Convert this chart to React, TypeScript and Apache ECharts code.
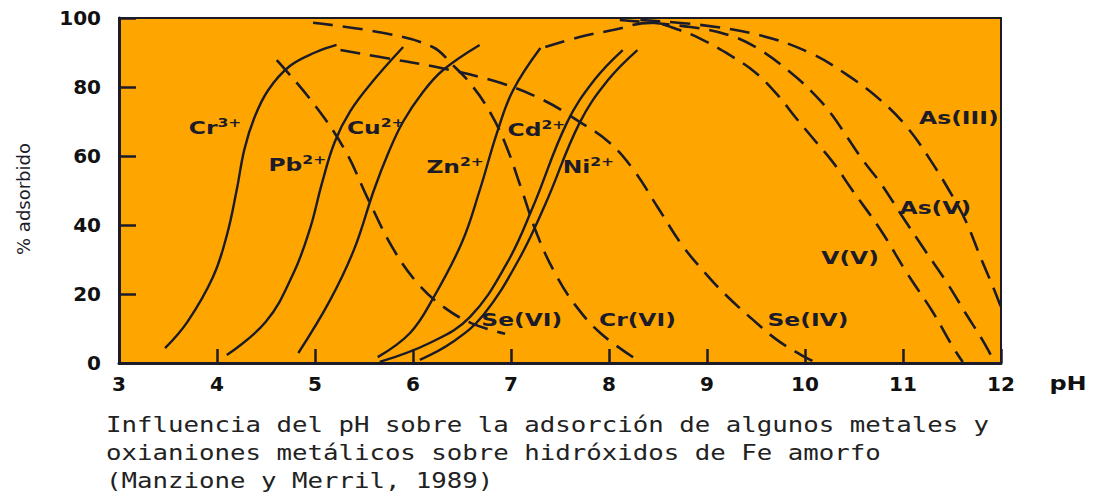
import React, { useEffect, useRef } from "react";
import * as echarts from "echarts";

// ---- data (pH, % adsorbed) ----
const crIII = [[3.47, 4.3], [3.7, 12], [3.96, 25], [4.1, 37], [4.2, 50], [4.28, 62], [4.38, 71], [4.52, 79], [4.74, 86], [5.0, 90], [5.22, 92.2]];
const pbII = [[4.1, 2.3], [4.5, 12], [4.78, 26], [4.95, 39], [5.07, 52], [5.2, 64], [5.36, 73], [5.6, 82], [5.9, 91.6]];
const cuII = [[4.83, 2.9], [5.15, 18], [5.4, 33], [5.6, 50], [5.75, 61], [5.9, 70], [6.1, 78.5], [6.31, 85], [6.68, 92.2]];
const znII = [[5.64, 1.7], [5.97, 8.7], [6.2, 18.5], [6.5, 35], [6.68, 50], [6.86, 67], [7.02, 79], [7.3, 91.3]];
const cdII = [[5.66, 0.3], [6.17, 5.8], [6.58, 13.3], [6.96, 29], [7.22, 45], [7.57, 69.6], [7.85, 82], [8.14, 90.7]];
const niII = [[6.07, 0.9], [6.4, 6], [6.72, 14], [7.08, 30], [7.35, 46], [7.7, 69.6], [7.99, 82], [8.29, 90.7]];

const seVI = [[4.61, 87.8], [4.98, 75.4], [5.3, 62], [5.55, 47], [5.8, 33], [6.05, 23], [6.3, 16.5], [6.6, 11.5], [6.94, 8.5]];
const crVI = [[4.98, 98.6], [5.69, 95.7], [6.2, 91.6], [6.4, 86.5], [6.6, 80.5], [6.8, 72], [6.95, 63], [7.1, 51], [7.27, 37], [7.45, 26], [7.65, 17], [7.92, 8.5], [8.32, 0.3]];
const seIV = [[5.26, 90.7], [5.84, 87.8], [6.24, 85.8], [6.89, 81.2], [7.33, 76.2], [7.7, 69.9], [8.0, 64], [8.25, 56], [8.5, 45], [8.75, 34], [9.0, 25.5], [9.2, 19.5], [9.45, 13], [9.7, 7], [9.95, 2.5], [10.12, 0]];
const vV = [[7.35, 91.6], [7.7, 94.5], [8.04, 96.5], [8.42, 98.6], [8.72, 96.5], [8.96, 93.6], [9.23, 89.3], [9.49, 84.3], [9.72, 77.7], [9.9, 71.3], [10.07, 65.5], [10.29, 58], [10.46, 51], [10.77, 38.6], [11.04, 26.1], [11.31, 14.5], [11.51, 4.6], [11.61, 0.3]];
const asV = [[8.11, 99.4], [8.83, 97.4], [9.23, 95], [9.51, 91.3], [9.85, 84.3], [10.08, 78.3], [10.26, 72.5], [10.43, 65.5], [10.59, 58.8], [10.77, 52.2], [10.97, 43.5], [11.22, 32.8], [11.45, 23.2], [11.65, 13.9], [11.81, 6.7], [11.94, 0]];
const asIII = [[8.32, 99.4], [8.93, 98], [9.54, 95], [10.05, 89.9], [10.43, 83.5], [10.77, 76.2], [11.04, 68.4], [11.28, 58.8], [11.51, 48.1], [11.65, 40.6], [11.79, 30.7], [11.92, 22], [12.0, 16.2]];

const cations = [
  { name: "Cr3+", data: crIII },
  { name: "Pb2+", data: pbII },
  { name: "Cu2+", data: cuII },
  { name: "Zn2+", data: znII },
  { name: "Cd2+", data: cdII },
  { name: "Ni2+", data: niII },
];
const anions = [
  { name: "Se(VI)", data: seVI },
  { name: "Cr(VI)", data: crVI },
  { name: "Se(IV)", data: seIV },
  { name: "V(V)", data: vV },
  { name: "As(V)", data: asV },
  { name: "As(III)", data: asIII },
];

// curve labels (text, superscript charge, position in data units)
const labelTexts = ["Cr", "Pb", "Cu", "Zn", "Cd", "Ni", "Se(VI)", "Cr(VI)", "Se(IV)", "V(V)", "As(V)", "As(III)"];
const labelCharges = ["3+", "2+", "2+", "2+", "2+", "2+", "", "", "", "", "", ""];
const labelX = [3.98, 4.82, 5.62, 6.43, 7.26, 7.79, 7.11, 8.29, 10.03, 10.46, 11.33, 11.57];
const labelY = [68.1, 57.4, 68.1, 56.8, 67.5, 56.8, 12.5, 12.5, 12.5, 30.4, 44.9, 71];

const xMin = 3;
const xMax = 12;
const yMin = 0;
const yMax = 100;
const xAxisName = "pH";
const yAxisName = "% adsorbido";
const captionLines = [
  "Influencia del pH sobre la adsorción de algunos metales y",
  "oxianiones metálicos sobre hidróxidos de Fe amorfo",
  "(Manzione y Merril, 1989)",
];

export default function App() {
  const ref = useRef<HTMLDivElement>(null);

  useEffect(() => {
    if (!ref.current) return;
    const chart = echarts.init(ref.current, null, { renderer: "svg" });
    const ink = "#1b1b29";

    const series: any[] = [
      ...cations.map((s) => ({
        type: "line",
        name: s.name,
        data: s.data,
        smooth: 0.4,
        symbol: "none",
        silent: true,
        lineStyle: { color: ink, width: 2.4 },
      })),
      ...anions.map((s) => ({
        type: "line",
        name: s.name,
        data: s.data,
        smooth: 0.4,
        symbol: "none",
        silent: true,
        lineStyle: { color: ink, width: 2.6, type: [20, 10] },
      })),
    ];

    chart.setOption({
      animation: false,
      grid: {
        left: 119,
        right: 92,
        top: 18,
        bottom: 130,
        show: true,
        backgroundColor: "#FFA500",
        borderColor: ink,
        borderWidth: 2,
      },
      xAxis: {
        type: "value",
        min: xMin,
        max: xMax,
        interval: 1,
        axisLine: { lineStyle: { color: ink, width: 3 } },
        axisTick: { inside: true, length: 14, lineStyle: { color: ink, width: 2.5 } },
        axisLabel: { color: "#111", fontFamily: "DejaVu Sans", fontWeight: "bold", fontSize: 20, margin: 11 },
        splitLine: { show: false },
      },
      yAxis: {
        type: "value",
        min: yMin,
        max: yMax,
        interval: 20,
        axisLine: { show: true, lineStyle: { color: ink, width: 3 } },
        axisTick: { show: true, inside: true, length: 17, lineStyle: { color: ink, width: 2.5 } },
        axisLabel: { color: "#111", fontFamily: "DejaVu Sans", fontWeight: "bold", fontSize: 20, margin: 18 },
        splitLine: { show: false },
      },
      series,
    });

    const graphics: any[] = [];
    labelTexts.forEach((t, i) => {
      const p = chart.convertToPixel({ gridIndex: 0 }, [labelX[i], labelY[i]]) as number[];
      const txt = labelCharges[i] ? `{m|${t}}{s|${labelCharges[i]}}` : `{m|${t}}`;
      graphics.push({
        type: "text",
        x: p[0],
        y: p[1],
        scaleX: 1.3,
        z: 100,
        style: {
          text: txt,
          align: "center",
          verticalAlign: "middle",
          rich: {
            m: { fontSize: 18, fontWeight: "bold", fontFamily: "DejaVu Sans", fill: ink, lineHeight: 22 },
            s: { fontSize: 12, fontWeight: "bold", fontFamily: "DejaVu Sans", fill: ink, lineHeight: 12, verticalAlign: "top" },
          },
        },
      });
    });

    graphics.push({
      type: "text",
      x: 23,
      y: 199,
      rotation: Math.PI / 2,
      z: 100,
      style: {
        text: yAxisName,
        fontSize: 18,
        fontFamily: "DejaVu Sans",
        fill: ink,
        align: "center",
        verticalAlign: "middle",
      },
    });
    graphics.push({
      type: "text",
      x: 1068,
      y: 383,
      scaleX: 1.2,
      z: 100,
      style: {
        text: xAxisName,
        fontSize: 20,
        fontWeight: "bold",
        fontFamily: "DejaVu Sans",
        fill: "#111",
        align: "center",
        verticalAlign: "middle",
      },
    });
    captionLines.forEach((line, i) => {
      graphics.push({
        type: "text",
        x: 106,
        y: 425 + i * 28,
        scaleX: 1.17,
        z: 100,
        style: {
          text: line,
          fontSize: 22,
          fontFamily: "DejaVu Sans Mono",
          fill: "#222",
          align: "left",
          verticalAlign: "middle",
        },
      });
    });

    chart.setOption({ graphic: graphics });

    return () => chart.dispose();
  }, []);

  return (
    <div
      ref={ref}
      style={{ position: "absolute", left: 0, top: 0, width: 1093, height: 493, background: "#fff" }}
    />
  );
}
